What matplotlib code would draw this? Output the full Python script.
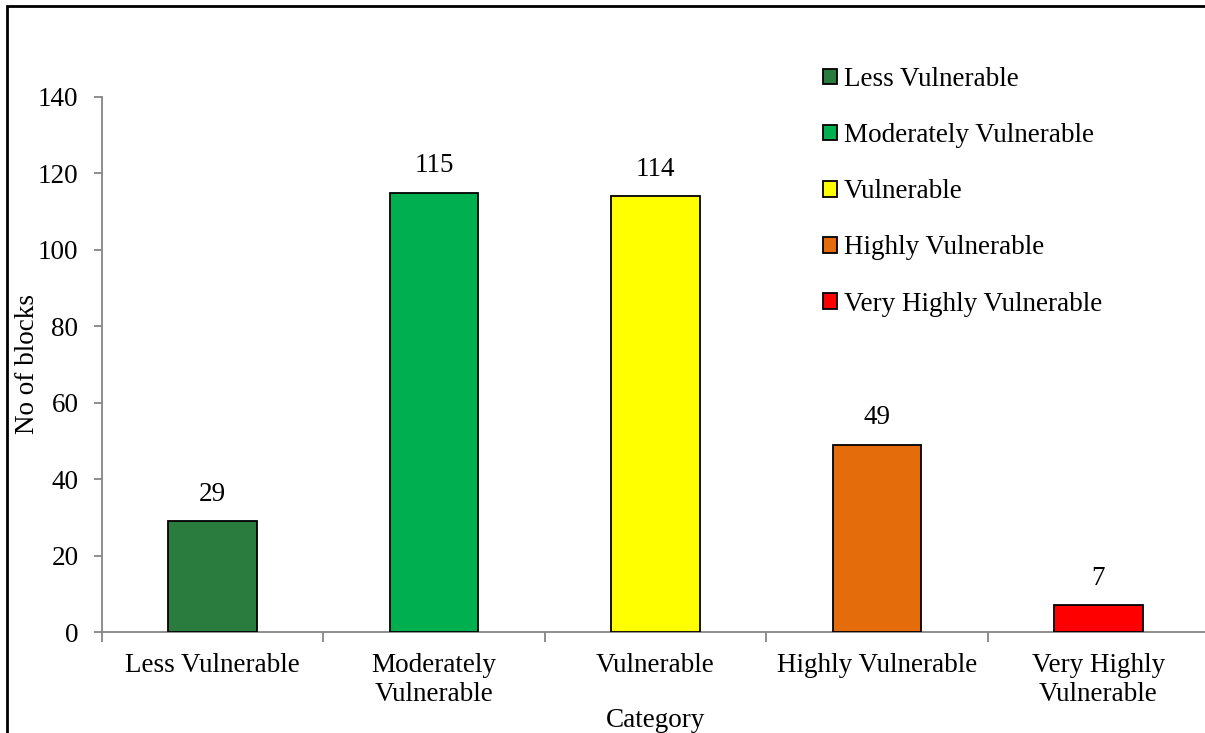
import numpy as np
import matplotlib
matplotlib.use('Agg')
import matplotlib.pyplot as plt
from matplotlib.patches import Patch, Rectangle

plt.rcParams['font.family'] = ['Liberation Serif', 'DejaVu Serif']
fs = 19.5

categories = ['Less Vulnerable', 'Moderately Vulnerable', 'Vulnerable',
              'Highly Vulnerable', 'Very Highly Vulnerable']
tick_labels = ['Less Vulnerable', 'Moderately\nVulnerable', 'Vulnerable',
               'Highly Vulnerable', 'Very Highly\nVulnerable']
blocks = [29, 115, 114, 49, 7]
colors = ['#2A7B3E', '#00B050', '#FFFF00', '#E46C0A', '#FF0000']

fig = plt.figure(figsize=(12.05, 7.33), dpi=100)
ax = fig.add_axes([102/1205, 1-632/733, 1107/1205, 535/733])

x = np.arange(len(categories))
bars = ax.bar(x, blocks, width=0.40, color=colors, edgecolor='black', linewidth=1.3, zorder=3)
for xi, v in zip(x, blocks):
    ax.annotate(str(v), (xi, v), xytext=(0, 10.5), textcoords='offset points',
                ha='center', va='bottom', fontsize=fs)

ax.set_xlim(-0.5, len(categories)-0.5)
ax.set_ylim(0, 140)
ax.set_yticks(np.arange(0, 141, 20))
ax.tick_params(axis='y', labelsize=fs, color='#868686', length=6, width=1.3, pad=11)

# category labels centred, ticks on the boundaries
ax.set_xticks(x)
ax.set_xticklabels(tick_labels, fontsize=fs, linespacing=1.22)
ax.tick_params(axis='x', which='major', length=0, pad=15)
ax.set_xticks(np.arange(-0.5, len(categories), 1.0), minor=True)
ax.tick_params(axis='x', which='minor', color='#868686', length=7, width=1.3)

for s in ['top', 'right']:
    ax.spines[s].set_visible(False)
for s in ['left', 'bottom']:
    ax.spines[s].set_color('#868686')
    ax.spines[s].set_linewidth(1.3)

ax.set_xlabel('Category', fontsize=fs, labelpad=1)
ax.set_ylabel('No of blocks', fontsize=fs, va='center')
ax.yaxis.set_label_coords(-74/1107, 0.5)

handles = [Patch(facecolor=c, edgecolor='black', linewidth=1.3, label=l)
           for c, l in zip(colors, categories)]
fig.legend(handles=handles, loc='upper left', bbox_to_anchor=(823/1205, 1-67/733),
           frameon=False, fontsize=fs, handlelength=0.52, handleheight=0.52,
           handletextpad=0.25, labelspacing=1.15, borderaxespad=0, borderpad=0)

# outer chart border
fig.patches.append(Rectangle((7/1205, -0.1), 1.2, 1.1 - 6/733,
                             transform=fig.transFigure, fill=False,
                             edgecolor='black', linewidth=2))

fig.savefig('out.png', dpi=100)
